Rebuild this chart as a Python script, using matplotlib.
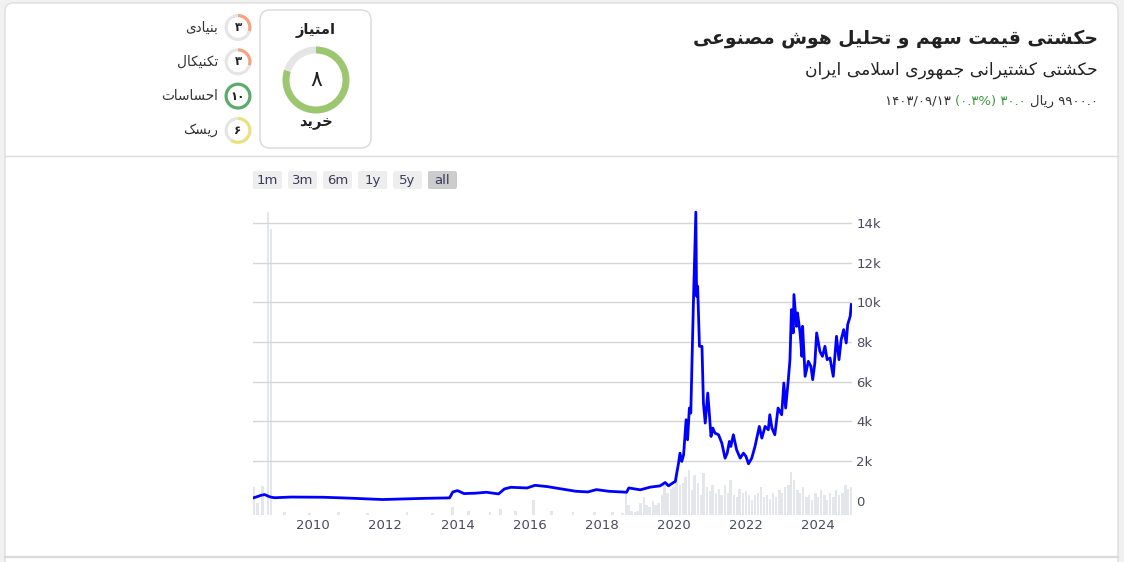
import matplotlib
matplotlib.use("Agg")
import matplotlib.pyplot as plt
from matplotlib.patches import FancyBboxPatch, Wedge

# ---- data ----
price_years = [2008.33, 2008.42, 2008.55, 2008.65, 2008.8, 2008.93, 2009.38, 2010.28, 2011.0, 2011.92,
               2013.1, 2013.78, 2013.87, 2014.0, 2014.18, 2014.5, 2014.8, 2015.14, 2015.3, 2015.48,
               2015.93, 2016.15, 2016.5, 2016.83, 2017.28, 2017.62, 2017.85, 2018.19, 2018.69, 2018.75,
               2019.07, 2019.34, 2019.62, 2019.76, 2019.85, 2019.99, 2020.04, 2020.13, 2020.17, 2020.22,
               2020.27, 2020.34, 2020.38, 2020.43, 2020.47, 2020.54, 2020.61, 2020.63, 2020.66, 2020.71,
               2020.78, 2020.82, 2020.87, 2020.94, 2020.99, 2021.03, 2021.08, 2021.14, 2021.24, 2021.33,
               2021.42, 2021.48, 2021.54, 2021.58, 2021.65, 2021.74, 2021.84, 2021.93, 2022.0, 2022.07,
               2022.16, 2022.25, 2022.37, 2022.44, 2022.53, 2022.62, 2022.66, 2022.72, 2022.8, 2022.89,
               2022.99, 2023.05, 2023.1, 2023.17, 2023.22, 2023.26, 2023.31, 2023.33, 2023.4, 2023.43,
               2023.5, 2023.55, 2023.57, 2023.64, 2023.73, 2023.8, 2023.85, 2023.91, 2023.96, 2024.05,
               2024.12, 2024.19, 2024.25, 2024.33, 2024.42, 2024.51, 2024.58, 2024.64, 2024.71, 2024.78,
               2024.82, 2024.89, 2024.92]
price_values = [130, 180, 260, 300, 183, 140, 175, 165, 120, 50,
                110, 133, 430, 500, 350, 370, 417, 333, 583, 667,
                633, 767, 700, 600, 467, 433, 550, 467, 417, 633,
                540, 673, 740, 909, 740, 909, 960, 1885, 2390, 1970,
                2306, 4073, 3063, 4662, 4410, 9795, 14540, 10300, 10805, 7775,
                7775, 4914, 3905, 5419, 4241, 3231, 3652, 3400, 3315, 2895,
                2137, 2390, 2979, 2726, 3315, 2558, 2137, 2390, 2222, 1851,
                2137, 2726, 3736, 3147, 3736, 3568, 4325, 3652, 3315, 4662,
                4325, 5924, 4662, 6008, 7102, 9627, 8449, 10384, 8785, 9458,
                8449, 7270, 8785, 6261, 7018, 6766, 6093, 6934, 8449, 7523,
                7270, 7775, 7102, 7186, 6261, 8280, 7102, 8112, 8617, 7944,
                8869, 9290, 9879]

vol_years = [2008.36, 2008.45, 2008.6, 2008.75, 2008.83, 2009.2, 2009.9, 2010.7, 2011.5, 2012.6,
             2013.3, 2013.87, 2014.3, 2014.9, 2015.2, 2015.6, 2016.1, 2016.6, 2017.2, 2017.8,
             2018.3, 2018.58, 2018.67, 2018.75, 2018.83, 2018.92,
             2019.0, 2019.08, 2019.17, 2019.25, 2019.33, 2019.42, 2019.5, 2019.58, 2019.67, 2019.75, 2019.83, 2019.92,
             2020.0, 2020.08, 2020.17, 2020.25, 2020.33, 2020.42, 2020.5, 2020.58, 2020.67, 2020.75, 2020.83, 2020.92,
             2021.0, 2021.08, 2021.17, 2021.25, 2021.33, 2021.42, 2021.5, 2021.58, 2021.67, 2021.75, 2021.83, 2021.92,
             2022.0, 2022.08, 2022.17, 2022.25, 2022.33, 2022.42, 2022.5, 2022.58, 2022.67, 2022.75, 2022.83, 2022.92,
             2023.0, 2023.08, 2023.17, 2023.25, 2023.33, 2023.42, 2023.5, 2023.58, 2023.67, 2023.75, 2023.83, 2023.92,
             2024.0, 2024.08, 2024.17, 2024.25, 2024.33, 2024.42, 2024.5, 2024.58, 2024.67, 2024.75, 2024.83, 2024.92]
vol_values = [28, 12, 29, 303, 286, 3, 2, 3, 2, 3,
              2, 8, 4, 3, 6, 4, 15, 4, 3, 3,
              3, 2, 22, 10, 4, 3,
              4, 12, 18, 10, 8, 14, 10, 12, 20, 30, 22, 26,
              28, 44, 30, 32, 38, 45, 25, 40, 32, 20, 42, 28,
              24, 30, 22, 26, 20, 30, 22, 35, 20, 18, 26, 22,
              24, 20, 15, 20, 22, 28, 18, 20, 16, 22, 18, 25,
              22, 28, 30, 43, 35, 25, 22, 28, 18, 20, 15, 22,
              18, 25, 20, 15, 22, 18, 25, 20, 22, 30, 26, 28]

year_ticks = [2010, 2012, 2014, 2016, 2018, 2020, 2022, 2024]
price_ticks = [0, 2000, 4000, 6000, 8000, 10000, 12000, 14000]
price_tick_labels = ['0', '2k', '4k', '6k', '8k', '10k', '12k', '14k']

title = 'حکشتی قیمت سهم و تحلیل هوش مصنوعی'
subtitle = 'حکشتی کشتیرانی جمهوری اسلامی ایران'
score_total = 8
score_names = ['بنیادی', 'تکنیکال', 'احساسات', 'ریسک']
score_values = [3, 3, 10, 6]
score_digits = ['۳', '۳', '۱۰', '۶']
score_colors = ['#f4a37e', '#f4a37e', '#5dab6b', '#ebe07f']
range_buttons = ['1m', '3m', '6m', '1y', '5y', 'all']

# ---- tiny persian shaper (matplotlib does not join arabic letters) ----
FORMS = {
    'ا': ('\uFE8D', '\uFE8E', None, None), 'ب': ('\uFE8F', '\uFE90', '\uFE91', '\uFE92'),
    'ت': ('\uFE95', '\uFE96', '\uFE97', '\uFE98'), 'ج': ('\uFE9D', '\uFE9E', '\uFE9F', '\uFEA0'),
    'ح': ('\uFEA1', '\uFEA2', '\uFEA3', '\uFEA4'), 'خ': ('\uFEA5', '\uFEA6', '\uFEA7', '\uFEA8'),
    'د': ('\uFEA9', '\uFEAA', None, None), 'ر': ('\uFEAD', '\uFEAE', None, None),
    'ز': ('\uFEAF', '\uFEB0', None, None), 'س': ('\uFEB1', '\uFEB2', '\uFEB3', '\uFEB4'),
    'ش': ('\uFEB5', '\uFEB6', '\uFEB7', '\uFEB8'), 'ص': ('\uFEB9', '\uFEBA', '\uFEBB', '\uFEBC'),
    'ع': ('\uFEC9', '\uFECA', '\uFECB', '\uFECC'), 'ق': ('\uFED5', '\uFED6', '\uFED7', '\uFED8'),
    'ل': ('\uFEDD', '\uFEDE', '\uFEDF', '\uFEE0'), 'م': ('\uFEE1', '\uFEE2', '\uFEE3', '\uFEE4'),
    'ن': ('\uFEE5', '\uFEE6', '\uFEE7', '\uFEE8'), 'ه': ('\uFEE9', '\uFEEA', '\uFEEB', '\uFEEC'),
    'و': ('\uFEED', '\uFEEE', None, None), 'ک': ('\uFB8E', '\uFB8F', '\uFB90', '\uFB91'),
    'ی': ('\uFBFC', '\uFBFD', '\uFBFE', '\uFBFF'),
}


def fa(text):
    res = []
    i = 0
    while i < len(text):
        ch = text[i]
        if ch not in FORMS:
            res.append(ch)
            i += 1
            continue
        prev = i > 0 and text[i-1] in FORMS and FORMS[text[i-1]][2] is not None
        if ch == 'ل' and i + 1 < len(text) and text[i+1] == 'ا':
            res.append('\uFEFC' if prev else '\uFEFB')
            i += 2
            continue
        nxt = FORMS[ch][2] is not None and i + 1 < len(text) and text[i+1] in FORMS
        iso, fin, ini, med = FORMS[ch]
        if prev and nxt:
            res.append(med)
        elif prev:
            res.append(fin)
        elif nxt:
            res.append(ini)
        else:
            res.append(iso)
        i += 1
    return ''.join(res)[::-1]


fig = plt.figure(figsize=(11.24, 5.62), dpi=100)
fig.patch.set_facecolor('#f1f1f1')

# background / header drawn in pixel coordinates
bg = fig.add_axes([0, 0, 1, 1])
bg.set_xlim(0, 1124)
bg.set_ylim(562, 0)
bg.axis('off')
bg.add_patch(FancyBboxPatch((5, 3), 1113, 600, boxstyle='round,pad=0,rounding_size=8',
                            fc='white', ec='#dedede', lw=1))
bg.plot([5, 1118], [155.5, 155.5], color='#dcdcdc', lw=1)
bg.plot([5, 1118], [556.5, 556.5], color='#dadada', lw=1.6)

bg.text(1098, 39, fa(title), ha='right', va='center', fontsize=13.5, fontweight='bold', color='#222222')
bg.text(1098, 70, fa(subtitle), ha='right', va='center', fontsize=12.3, color='#222222')
t1 = bg.text(1098, 101, fa('ریال') + ' ۹۹۰۰.۰', ha='right', va='center', fontsize=9.5, color='#333333')
t2 = bg.annotate('(۰.۳%) ۳۰.۰ ', xy=(0, 0.5), xycoords=t1, ha='right', va='center',
                 fontsize=9.5, color='#3f9a3f')
bg.annotate('۱۴۰۳/۰۹/۱۳ ', xy=(0, 0.5), xycoords=t2, ha='right', va='center',
            fontsize=9.5, color='#333333')

# overall score card
bg.add_patch(FancyBboxPatch((260, 10), 111, 138, boxstyle='round,pad=0,rounding_size=10',
                            fc='white', ec='#d9d9d9', lw=1))
bg.text(316, 31, fa('امتیاز'), ha='center', va='center', fontsize=10.5, fontweight='bold', color='#222222')
end = -90 + 360 * score_total / 10
bg.add_patch(Wedge((316, 80), 33.5, -90, end, width=7, fc='#9cc770', ec='none'))
bg.add_patch(Wedge((316, 80), 33.5, end, 270, width=7, fc='#e5e5e5', ec='none'))
bg.text(316, 80, '۸', ha='center', va='center', fontsize=16, color='#222222')
bg.text(316, 122, fa('خرید'), ha='center', va='center', fontsize=10.5, fontweight='bold', color='#222222')

# small score rings
for k, (name, val, dig, col) in enumerate(zip(score_names, score_values, score_digits, score_colors)):
    cy = 27.5 + k * 34.3
    end = -90 + 360 * val / 10
    bg.add_patch(Wedge((238, cy), 13.5, -90, end, width=3.2, fc=col, ec='none'))
    if val < 10:
        bg.add_patch(Wedge((238, cy), 13.5, end, 270, width=3.2, fc='#e5e5e5', ec='none'))
    bg.text(238, cy, dig, ha='center', va='center', fontsize=8.5, fontweight='bold', color='#222222')
    bg.text(218, cy, fa(name), ha='right', va='center', fontsize=9.8, color='#333333')

# range selector buttons
for k, lab in enumerate(range_buttons):
    x0 = 253 + k * 35
    bg.add_patch(FancyBboxPatch((x0, 171), 29, 18, boxstyle='round,pad=0,rounding_size=2',
                                fc='#cccccc' if lab == 'all' else '#eeeeee', ec='none'))
    bg.text(x0 + 14.5, 180.5, lab, ha='center', va='center', fontsize=9.5, color='#3a3a5c')

# chart
rect = [253 / 1124, 47 / 562, 599 / 1124, 310 / 562]
axv = fig.add_axes(rect)
axv.bar(vol_years, vol_values, width=0.075, color='#e3e6ea', linewidth=0)
axv.set_xlim(2008.33, 2024.94)
axv.set_ylim(0, 310)
axv.axis('off')

ax = fig.add_axes(rect)
ax.patch.set_visible(False)
for v in price_ticks[1:]:
    ax.axhline(v, color='#d5d5d5', lw=1, zorder=0)
ax.plot(price_years, price_values, color='#0000ff', lw=2)
ax.set_xlim(2008.33, 2024.94)
ax.set_ylim(-730, 14900)
ax.yaxis.tick_right()
ax.set_yticks(price_ticks)
ax.set_yticklabels(price_tick_labels)
ax.set_xticks(year_ticks)
ax.set_xticklabels([str(y) for y in year_ticks])
ax.tick_params(length=0, labelsize=9.5, labelcolor='#4a4a5e')
ax.tick_params(axis='y', pad=3)
ax.tick_params(axis='x', pad=3)
for s in ax.spines.values():
    s.set_visible(False)

plt.savefig('out.png', dpi=100)
